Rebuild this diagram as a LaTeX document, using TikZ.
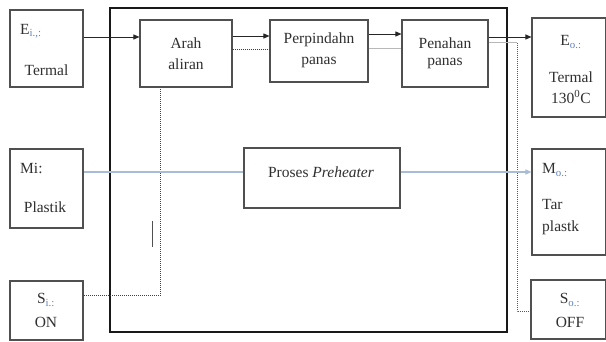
\documentclass[tikz,border=0pt]{standalone}
\usepackage{fontspec}
\setmainfont{Liberation Serif}
\usetikzlibrary{arrows.meta}
\definecolor{ln}{HTML}{505050}
\definecolor{txt}{HTML}{303030}
\definecolor{sub}{HTML}{5F82C0}
\definecolor{lblue}{HTML}{A8BCD8}
\definecolor{lgray}{HTML}{B8B8B8}
\begin{document}
\begin{tikzpicture}[x=1pt,y=-1pt,
  box/.style={draw=ln, line width=1.1pt, fill=white, inner sep=0pt},
  lbl/.style={text=txt, inner sep=0pt, font=\fontsize{15.5}{18}\selectfont},
  arr/.style={draw=black!85, line width=0.9pt, -{Triangle[length=6pt,width=5pt]}},
  dotline/.style={draw=black!75, line width=1pt, densely dotted},
  blueline/.style={draw=lblue, line width=1.1pt},
  grayline/.style={draw=lgray, line width=1pt}]
\useasboundingbox (0,0) rectangle (606,342);
\fill[white] (0,0) rectangle (606,342);

% frame
\node[draw=black!90, line width=2pt, minimum width=397pt, minimum height=324pt, inner sep=0pt] (frame) at (308.5,170) {};

% connectors drawn beneath boxes
\coordinate (c1) at (160,296);
\draw[dotline] (10,296) -- (c1) -- (160,87);
\coordinate (tk1) at (152,221);
\coordinate (tk2) at (152,247);
\draw[draw=ln, line width=0.9pt] (tk1) -- (tk2);
\coordinate (r1) at (517,43);
\coordinate (r2) at (517,312);
\draw[grayline] (488,43) -- (r1);
\draw[dotline, draw=black!65] (r1) -- (r2) -- (531,312);

% boxes
\node[box, minimum width=73pt, minimum height=77pt] (ei) at (46.5,48.5) {};
\node[box, minimum width=92pt, minimum height=67pt] (arah) at (186,53.5) {};
\node[box, minimum width=98pt, minimum height=62pt] (perp) at (319,51) {};
\node[box, minimum width=86pt, minimum height=67pt] (pena) at (445,53.5) {};
\node[box, minimum width=74pt, minimum height=99pt] (eo) at (569,67.5) {};
\node[box, minimum width=73pt, minimum height=79pt] (mi) at (46.5,188.5) {};
\node[box, minimum width=156pt, minimum height=60pt] (proc) at (322,178) {};
\node[box, minimum width=74pt, minimum height=106pt] (mo) at (569,202) {};
\node[box, minimum width=73pt, minimum height=59pt] (si) at (46.5,310.5) {};
\node[box, minimum width=75pt, minimum height=59pt] (so) at (568.5,309.5) {};

% texts
\node[lbl, anchor=west] (t-ei) at (20,31) {E\textsubscript{\color{sub}i.,:}};
\node[lbl] (t-ei2) at (46.5,70) {Termal};
\node[lbl] (t-ar1) at (186,43) {Arah};
\node[lbl] (t-ar2) at (186,64) {aliran};
\node[lbl] (t-pp1) at (319,40) {Perpindahn};
\node[lbl] (t-pp2) at (319,62) {panas};
\node[lbl] (t-pn1) at (445,43) {Penahan};
\node[lbl] (t-pn2) at (445,63) {panas};
\node[lbl] (t-eo) at (571,42) {E\textsubscript{\color{sub}o.:}};
\node[lbl] (t-eo2) at (571,77) {Termal};
\node[lbl] (t-eo3) at (571,97) {130\textsuperscript{0}C};
\node[lbl, anchor=west] (t-mi) at (20,168) {Mi:};
\node[lbl] (t-mi2) at (45,207) {Plastik};
\node[lbl] (t-pr) at (321,172) {Proses \textit{Preheater}};
\node[lbl, anchor=west] (t-mo) at (542,170) {M\textsubscript{\color{sub}o.:}};
\node[lbl, anchor=west] (t-mo2) at (542,205) {Tar};
\node[lbl, anchor=west] (t-mo3) at (542,228) {plastk};
\node[lbl] (t-si) at (46,300) {S\textsubscript{\color{sub}i.:}};
\node[lbl] (t-si2) at (46,322) {ON};
\node[lbl] (t-so) at (570,300) {S\textsubscript{\color{sub}o.:}};
\node[lbl] (t-so2) at (570,322) {OFF};

% connectors between boxes
\draw[arr] (ei.east |- 0,37) -- (arah.west |- 0,37);
\draw[arr] (arah.east |- 0,36) -- (perp.west |- 0,36);
\draw[dotline] (arah.east |- 0,50) -- (perp.west |- 0,50);
\draw[arr] (perp.east |- 0,34) -- (pena.west |- 0,34);
\draw[grayline] (perp.east |- 0,49) -- (pena.west |- 0,49);
\draw[arr] (pena.east |- 0,37) -- (eo.west |- 0,37);
\draw[blueline] (mi.east |- 0,172) -- (proc.west |- 0,172);
\draw[blueline, -{Triangle[length=6pt,width=5pt]}] (proc.east |- 0,172) -- (mo.west |- 0,172);
\end{tikzpicture}
\end{document}
